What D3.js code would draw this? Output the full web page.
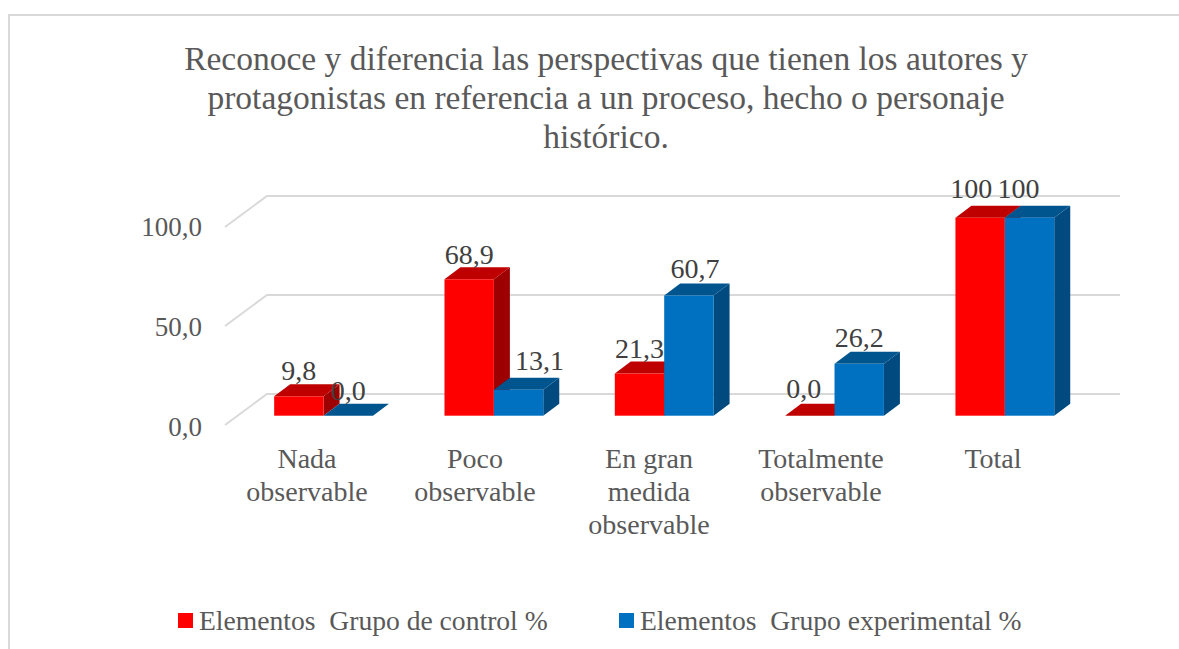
<!DOCTYPE html>
<html>
<head>
<meta charset="utf-8">
<script src="https://cdnjs.cloudflare.com/ajax/libs/d3/7.8.5/d3.min.js"></script>
<style>
  html, body { margin: 0; padding: 0; background: #fff; }
  text { font-family: "Liberation Serif", serif; }
</style>
</head>
<body>
<svg id="chart"></svg>
<script>
var width = 1179,
    height = 649;

var titleLines = [
  "Reconoce y diferencia las perspectivas que tienen los autores y",
  "protagonistas en referencia a un proceso, hecho o personaje",
  "histórico."
];
var categories = ["Nada observable", "Poco observable", "En gran medida observable", "Totalmente observable", "Total"];
var categoryLines = [["Nada", "observable"], ["Poco", "observable"], ["En gran", "medida", "observable"], ["Totalmente", "observable"], ["Total"]];
var seriesNames = ["Elementos  Grupo de control %", "Elementos  Grupo experimental %"];
var controlValues = [9.8, 68.9, 21.3, 0, 100];
var experimentalValues = [0, 13.1, 60.7, 26.2, 100];
var controlLabels = ["9,8", "68,9", "21,3", "0,0", "100"];
var experimentalLabels = ["0,0", "13,1", "60,7", "26,2", "100"];
var yTicks = [0, 50, 100];
var yTickLabels = ["0,0", "50,0", "100,0"];

var colors = [
  {front: "#ff0000", top: "#bf0000", side: "#9c0000"},
  {front: "#0070c0", top: "#00558f", side: "#004a80"}
];

// 3d offsets
var depthX = 16, depthY = 12;
var wallX = 42, wallY = 31;

// hand placed data labels, [dx, dy] from the middle of the bar top
var controlNudge = [[0, -16], [0, -15], [0, -16], [-6, -18], [-9, -20]];
var experimentalNudge = [[0, -16], [21, -20], [6, -18], [0, -17], [-11, -20]];

var svg = d3.select("#chart").attr("width", width).attr("height", height);

// chart frame
svg.append("rect")
  .attr("x", 9).attr("y", 15)
  .attr("width", 1180).attr("height", 660)
  .attr("fill", "#fff")
  .attr("stroke", "#d9d9d9")
  .attr("stroke-width", 2);

var x0 = d3.scaleBand().domain(categories).range([238.4, 1090]).paddingInner(0.42).paddingOuter(0.21);
var x1 = d3.scaleBand().domain([0, 1]).range([0, x0.bandwidth()]);
var y = d3.scaleLinear().domain([0, 100]).range([415.7, 217.7]);
var yLabel = d3.scaleLinear().domain([0, 100]).range([436, 235.5]);
// the category labels do not sit quite under their bars in the original
var xLabel = d3.scaleOrdinal().domain(categories).range([307, 475, 649, 821, 993]);

// gridlines on floor and back wall
var grid = svg.append("g");
grid.selectAll("path")
  .data(yTicks)
  .enter().append("path")
  .attr("d", function(d) {
    var py = y(d) + 9.3;
    return "M225," + py + "L" + (225 + wallX) + "," + (py - wallY) + "H1120";
  })
  .attr("fill", "none")
  .attr("stroke", "#d9d9d9")
  .attr("stroke-width", 2);

svg.append("g").selectAll("text")
  .data(yTicks)
  .enter().append("text")
  .attr("x", 202)
  .attr("y", function(d) { return yLabel(d); })
  .attr("text-anchor", "end")
  .attr("font-size", 27)
  .attr("fill", "#595959")
  .text(function(d, i) { return yTickLabels[i]; });

var rows = [];
categories.forEach(function(c, i) {
  rows.push({cat: c, s: 0, v: controlValues[i], label: controlLabels[i], nudge: controlNudge[i]});
  rows.push({cat: c, s: 1, v: experimentalValues[i], label: experimentalLabels[i], nudge: experimentalNudge[i]});
});

var bars = svg.append("g").selectAll("g")
  .data(rows)
  .enter().append("g");

function barX(d) { return x0(d.cat) + x1(d.s); }

bars.append("path")
  .attr("fill", function(d) { return colors[d.s].side; })
  .attr("d", function(d) {
    var r = barX(d) + x1.bandwidth(), t = y(d.v), b = y(0);
    return "M" + r + "," + t + "l" + depthX + "," + (-depthY) + "V" + (b - depthY) + "L" + r + "," + b + "Z";
  });

bars.append("path")
  .attr("fill", function(d) { return colors[d.s].top; })
  .attr("d", function(d) {
    var l = barX(d), t = y(d.v);
    return "M" + l + "," + t + "l" + depthX + "," + (-depthY) + "h" + x1.bandwidth() + "l" + (-depthX) + "," + depthY + "Z";
  });

bars.append("rect")
  .attr("x", barX)
  .attr("y", function(d) { return y(d.v); })
  .attr("width", x1.bandwidth())
  .attr("height", function(d) { return y(0) - y(d.v); })
  .attr("fill", function(d) { return colors[d.s].front; });

// value labels
svg.append("g").selectAll("text")
  .data(rows)
  .enter().append("text")
  .attr("x", function(d) { return barX(d) + x1.bandwidth() / 2 + d.nudge[0]; })
  .attr("y", function(d) { return y(d.v) + d.nudge[1]; })
  .attr("text-anchor", "middle")
  .attr("font-size", 28)
  .attr("fill", "#404040")
  .text(function(d) { return d.label; });

// category labels
var catLabels = svg.append("g").selectAll("text")
  .data(categories)
  .enter().append("text")
  .attr("text-anchor", "middle")
  .attr("font-size", 28)
  .attr("fill", "#595959");

catLabels.selectAll("tspan")
  .data(function(d, i) {
    return categoryLines[i].map(function(line) { return {line: line, cat: d}; });
  })
  .enter().append("tspan")
  .attr("x", function(d) { return xLabel(d.cat); })
  .attr("y", function(d, i) { return 468 + i * 33; })
  .text(function(d) { return d.line; });

// title
svg.append("g").selectAll("text")
  .data(titleLines)
  .enter().append("text")
  .attr("x", 606)
  .attr("y", function(d, i) { return 70 + i * 39; })
  .attr("text-anchor", "middle")
  .attr("font-size", 33.5)
  .attr("fill", "#595959")
  .text(function(d) { return d; });

// legend
var legendX = [178, 619];
var legend = svg.append("g").selectAll("g")
  .data(seriesNames)
  .enter().append("g");

legend.append("rect")
  .attr("x", function(d, i) { return legendX[i]; })
  .attr("y", 613)
  .attr("width", 15).attr("height", 15)
  .attr("fill", function(d, i) { return colors[i].front; });

legend.append("text")
  .attr("x", function(d, i) { return legendX[i] + 21; })
  .attr("y", 630)
  .attr("font-size", 27.6)
  .attr("fill", "#595959")
  .style("white-space", "pre")
  .text(function(d) { return d; });
</script>
</body>
</html>
